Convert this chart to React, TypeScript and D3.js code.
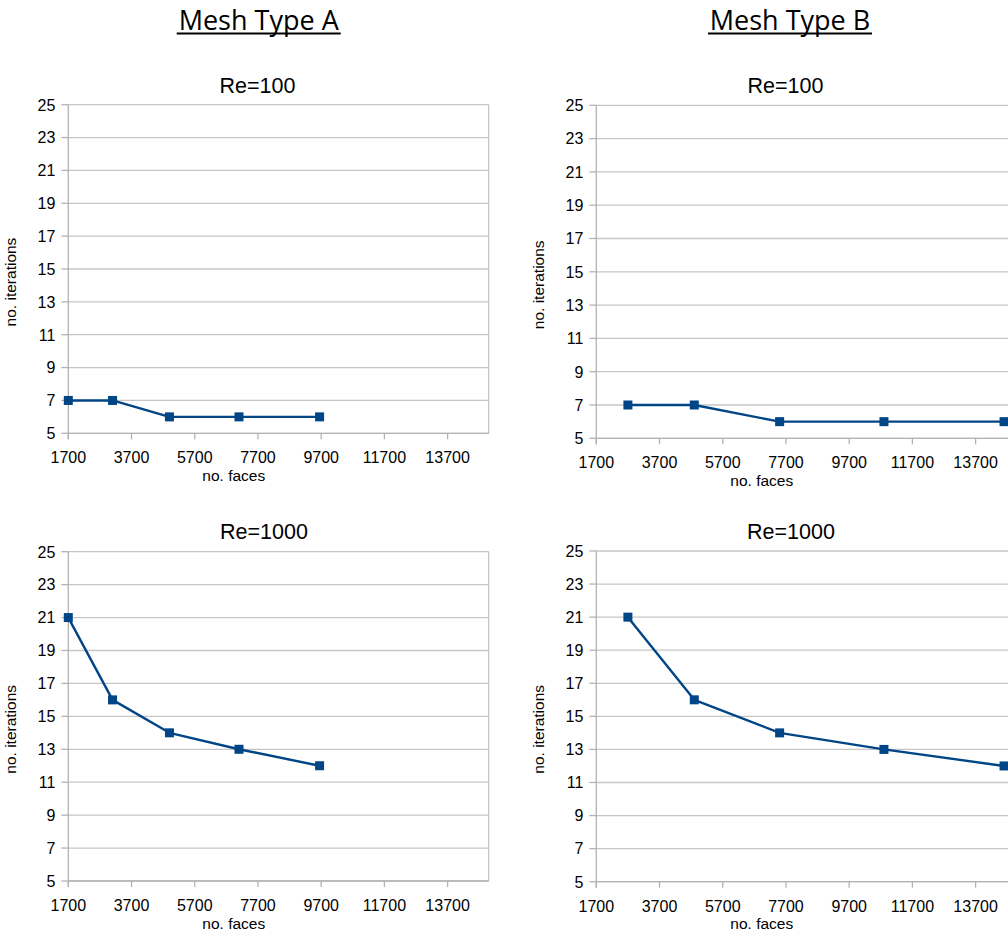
import React from 'react';
import * as d3 from 'd3';

// mesh sizes (no. faces) per mesh type
const facesA = [1700, 3100, 4900, 7100, 9650];
const facesB = [2700, 4800, 7500, 10800, 14600];

// iterations per Reynolds number
const itersA100 = [7, 7, 6, 6, 6];
const itersA1000 = [21, 16, 14, 13, 12];
const itersB100 = [7, 7, 6, 6, 6];
const itersB1000 = [21, 16, 14, 13, 12];

const xTicks = [1700, 3700, 5700, 7700, 9700, 11700, 13700];
const yTicks = [5, 7, 9, 11, 13, 15, 17, 19, 21, 23, 25];
const xDomain = [1700, 15000];
const yDomain = [5, 25];

const meshTitles = ['Mesh Type A', 'Mesh Type B'];

const FONT = '"Liberation Sans", Arial, sans-serif';
const BLUE = '#004586';

type Panel = {
  title: string;
  faces: number[];
  iters: number[];
  left: number;
  right: number;
  top: number;
  bottom: number;
  titleX: number;
  titleY: number;
};

const panels: Panel[] = [
  { title: 'Re=100', faces: facesA, iters: itersA100, left: 68.3, right: 488.7, top: 104.7, bottom: 433.3, titleX: 257.5, titleY: 92.5 },
  { title: 'Re=100', faces: facesB, iters: itersB100, left: 596.3, right: 1016.7, top: 105.3, bottom: 438.3, titleX: 785.5, titleY: 92.5 },
  { title: 'Re=1000', faces: facesA, iters: itersA1000, left: 68.3, right: 488.7, top: 551.7, bottom: 881, titleX: 264, titleY: 539 },
  { title: 'Re=1000', faces: facesB, iters: itersB1000, left: 596.3, right: 1016.7, top: 551, bottom: 881.7, titleX: 791, titleY: 539 },
];

function Chart({ p }: { p: Panel }) {
  const x = d3.scaleLinear().domain(xDomain).range([p.left, p.right]);
  const y = d3.scaleLinear().domain(yDomain).range([p.bottom, p.top]);
  const line = d3.line<number>()
    .x((_, i) => x(p.faces[i]))
    .y(d => y(d));
  const midY = (p.top + p.bottom) / 2 + 13;

  return (
    <g>
      {yTicks.map(t => (
        <g key={'y' + t}>
          <line x1={p.left} x2={p.right} y1={y(t)} y2={y(t)} stroke="#c6c6c6" strokeWidth={1.3} />
          <line x1={p.left - 7} x2={p.left} y1={y(t)} y2={y(t)} stroke="#b3b3b3" strokeWidth={1.3} />
          <text x={p.left - 13} y={y(t) + 5.8} textAnchor="end" fontSize={16} fontFamily={FONT} fill="#000">{t}</text>
        </g>
      ))}
      <line x1={p.right} x2={p.right} y1={p.top} y2={p.bottom} stroke="#c6c6c6" strokeWidth={1.3} />
      <line x1={p.left} x2={p.left} y1={p.top} y2={p.bottom + 6} stroke="#b3b3b3" strokeWidth={1.3} />
      <line x1={p.left} x2={p.right} y1={p.bottom} y2={p.bottom} stroke="#b3b3b3" strokeWidth={1.3} />
      {xTicks.map(t => (
        <g key={'x' + t}>
          <line x1={x(t)} x2={x(t)} y1={p.bottom} y2={p.bottom + 6} stroke="#b3b3b3" strokeWidth={1.3} />
          <text x={x(t)} y={p.bottom + 30} textAnchor="middle" fontSize={16} fontFamily={FONT} fill="#000">{t}</text>
        </g>
      ))}
      <text x={p.left + 165.5} y={p.bottom + 47.5} textAnchor="middle" fontSize={15.5} fontFamily={FONT} fill="#000">no. faces</text>
      <text transform={`translate(${p.left - 52},${midY}) rotate(-90)`} textAnchor="middle" fontSize={15.5} fontFamily={FONT} fill="#000">no. iterations</text>
      <text x={p.titleX} y={p.titleY} textAnchor="middle" fontSize={21.5} fontFamily={FONT} fill="#000">{p.title}</text>
      <path d={line(p.iters) || ''} fill="none" stroke={BLUE} strokeWidth={2.4} strokeLinejoin="round" />
      {p.iters.map((v, i) => (
        <rect key={i} x={x(p.faces[i]) - 4.5} y={y(v) - 4.5} width={9} height={9} fill={BLUE} />
      ))}
    </g>
  );
}

export default function App() {
  const headX = [258.7, 790];
  return (
    <svg width={1008} height={932} style={{ position: 'absolute', left: 0, top: 0, background: '#fff' }}>
      <rect width={1008} height={932} fill="#fff" />
      {meshTitles.map((t, i) => (
        <g key={t}>
          <text x={headX[i]} y={30} textAnchor="middle" fontSize={27} fontFamily='"Open Sans", sans-serif' fill="#000">{t}</text>
          <line x1={headX[i] - 82} x2={headX[i] + 82} y1={33.5} y2={33.5} stroke="#000" strokeWidth={2} />
        </g>
      ))}
      {panels.map((p, i) => <Chart key={i} p={p} />)}
    </svg>
  );
}
